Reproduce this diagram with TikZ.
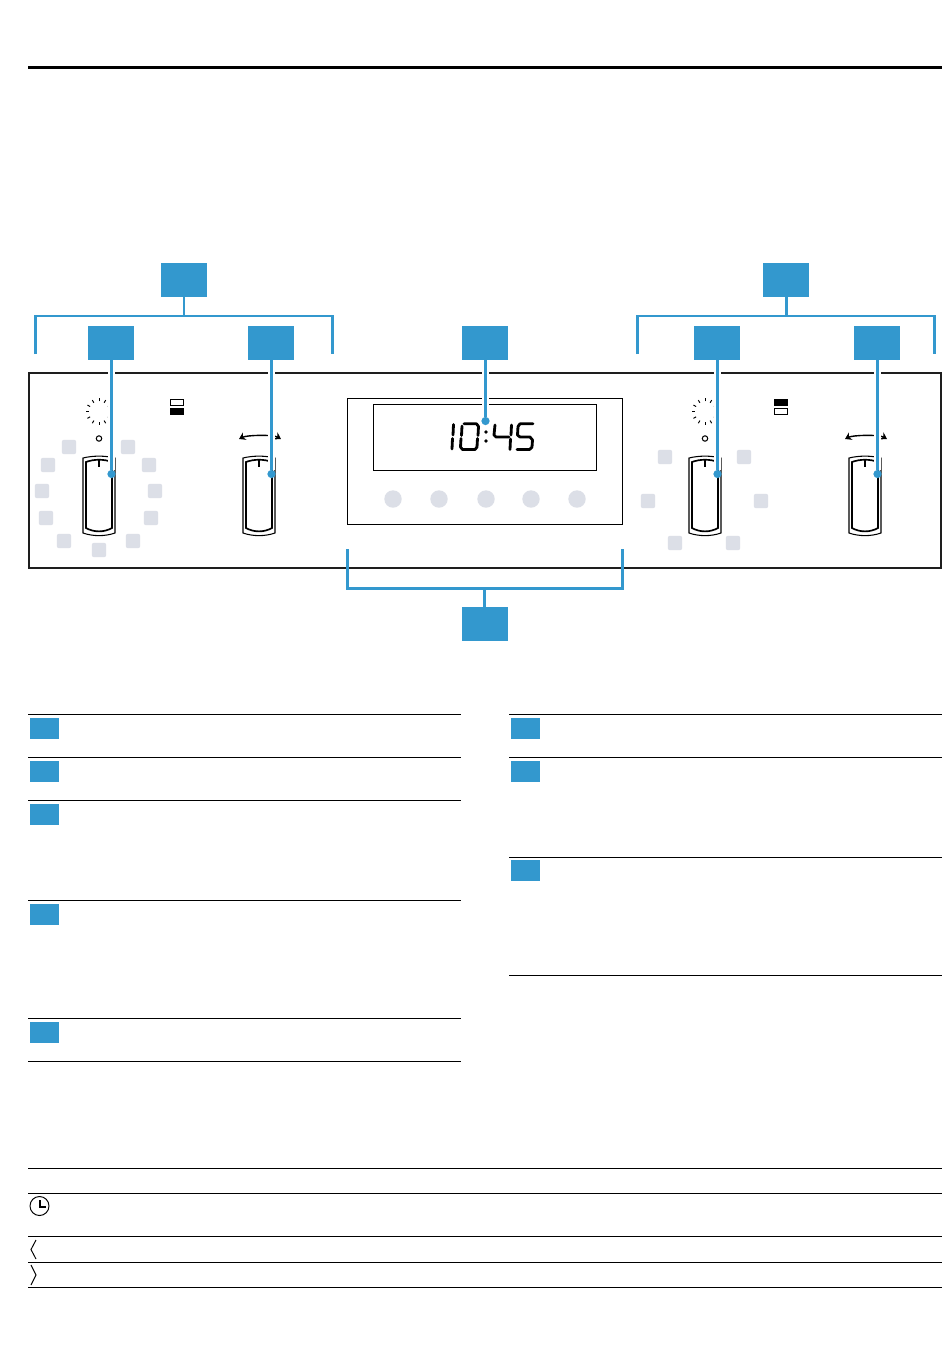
\documentclass[tikz,border=0pt]{standalone}
\usepackage{tikz}
\usetikzlibrary{arrows.meta}
\definecolor{leaderblue}{HTML}{3398CE}
\definecolor{keygrey}{HTML}{DCDFE7}
\definecolor{paneldark}{HTML}{1E1E1E}
\tikzset{
  keybig/.style={fill=leaderblue, minimum width=0.92cm, minimum height=0.68cm, inner sep=0pt},
  keysmall/.style={fill=leaderblue, minimum width=0.58cm, minimum height=0.42cm, inner sep=0pt},
  dotmark/.style={circle, fill=leaderblue, minimum size=0.165cm, inner sep=0pt},
  bracket/.style={leaderblue, line width=1.7pt},
  leader/.style={leaderblue, line width=1.7pt, preaction={draw=white, line width=4.2pt}},
  rulethin/.style={black, line width=0.55pt},
  segm/.style={black, line width=1.6pt, line cap=round, line join=round}
}
% knob at centre x = #1
\newcommand{\knobA}[1]{
  \draw[line width=0.6pt] (#1-16,458) .. controls (#1-6,455.5) and (#1+6,455.5) .. (#1+16,458) -- (#1+16,533) .. controls (#1+6,536.5) and (#1-6,536.5) .. (#1-16,533) -- cycle;
  \draw[line width=0.95pt] (#1-13,462) .. controls (#1-5,459) and (#1+5,459) .. (#1+13,462) -- (#1+13,528) .. controls (#1+5,532.5) and (#1-5,532.5) .. (#1-13,528) -- cycle;
  \draw[line width=0.95pt] (#1,459.5) -- (#1,467);
}
% sun ticks and small ring at centre x = #1
\newcommand{\sunA}[1]{
  \foreach \ang in {0,30,...,330} {
    \draw[line width=0.55pt] (#1,411.7) ++(\ang:10.3) -- ++(\ang:3);
  }
  \draw[line width=0.6pt] (#1,438.5) circle (2.7);
}
% turn arrow at centre x = #1
\newcommand{\turnA}[1]{
  \draw[line width=0.8pt, {Stealth[length=3.6pt,width=4.6pt]}-{Stealth[length=3.6pt,width=4.6pt]}] (#1-20,439) .. controls (#1-12,435) and (#1+14,434.5) .. (#1+22,439);
}
% grey key at x,y
\newcommand{\greyA}[2]{
  \fill[keygrey, rounded corners=1.2pt] (#1-7.2,#2-7.2) rectangle (#1+7.2,#2+7.2);
}
% table rule from x to x at y
\newcommand{\ruleA}[3]{
  \draw[rulethin] (#1,#3) -- (#2,#3);
}
\begin{document}
\begin{tikzpicture}[x=0.02cm,y=-0.02cm]
\useasboundingbox (0,0) rectangle (950,1369);
\fill[white] (0,0) rectangle (950,1369);

\draw[black, line width=1.7pt] (28,67.5) -- (942,67.5);

% panel
\draw[paneldark, line width=1.6pt] (29,373) rectangle (941,568);

% display
\draw[line width=0.65pt] (347.5,398.5) rectangle (622.5,524.5);
\draw[line width=0.65pt] (373.5,404.5) rectangle (596.5,470.5);
\foreach \xb in {393,439,486,531,577} {
  \fill[keygrey] (\xb,499) circle (8.7);
}
% digits
\draw[segm] (453.5,424.5) -- (453,435);
\draw[segm] (452.5,438.5) -- (452,449);
\draw[segm] (462,426) -- (461.5,435.5);
\draw[segm] (461,438.5) -- (460.5,447) -- (462.5,449.5) -- (475,449.5) -- (477,447) -- (477.5,438.5);
\draw[segm] (478,435.5) -- (478.5,426.5) -- (476.5,423.8) -- (464,423.8);
\fill (486,432) circle (1.8);
\fill (486,441) circle (1.8);
\draw[segm] (495,425) -- (494,435) -- (496,437) -- (509,437);
\draw[segm] (511.5,425) -- (511,435);
\draw[segm] (510.5,439) -- (510,449.5);
\draw[segm] (533,423.8) -- (520,423.8) -- (518,426.5) -- (517.5,435) -- (520,437) -- (530,437) -- (532.5,440);
\draw[segm] (532.5,440) -- (532,447) -- (529.5,449.5) -- (517,449.5);

% left side
\greyA{69}{447}
\greyA{48}{465}
\greyA{42}{491}
\greyA{46}{518}
\greyA{64}{541}
\greyA{99}{550}
\greyA{133}{541}
\greyA{151}{518}
\greyA{155}{491}
\greyA{149}{465}
\greyA{128}{447}
\knobA{99}
\knobA{259}
\sunA{99}
\turnA{259}
\draw[line width=0.55pt] (170.5,399) rectangle (183,405);
\fill (170,408) rectangle (183.5,415);

% right side
\greyA{665}{457}
\greyA{744}{457}
\greyA{648}{501}
\greyA{761}{501}
\greyA{675}{543}
\greyA{733}{543}
\knobA{705}
\knobA{865}
\sunA{705}
\turnA{865}
\fill (774,399) rectangle (787.5,406);
\draw[line width=0.55pt] (774.5,408.5) rectangle (787,414.5);

% callout keys
\node[keybig] (keyTopL) at (184,280) {};
\node[keybig] (keyTopR) at (786,280) {};
\node[keybig] (keyA) at (111,343) {};
\node[keybig] (keyB) at (271,343) {};
\node[keybig] (keyC) at (485,343) {};
\node[keybig] (keyD) at (717,343) {};
\node[keybig] (keyE) at (877,343) {};
\node[keybig] (keyBot) at (484.5,624) {};

\node[dotmark] (dotA) at (111.5,474) {};
\node[dotmark] (dotB) at (271.5,474) {};
\node[dotmark] (dotC) at (485.5,421) {};
\node[dotmark] (dotD) at (717.5,474) {};
\node[dotmark] (dotE) at (877.5,474) {};

\draw[leader] (keyA.south -| dotA) -- (dotA);
\draw[leader] (keyB.south -| dotB) -- (dotB);
\draw[leader] (keyC.south -| dotC) -- (dotC);
\draw[leader] (keyD.south -| dotD) -- (dotD);
\draw[leader] (keyE.south -| dotE) -- (dotE);

% brackets
\coordinate (brL1) at (35.5,354);
\coordinate (brL2) at (332.5,354);
\coordinate (brLm) at (184,316);
\draw[bracket] (brL1) |- (brLm) -| (brL2);
\draw[bracket] (keyTopL) -- (brLm);

\coordinate (brR1) at (637.5,354);
\coordinate (brR2) at (934.5,354);
\coordinate (brRm) at (786,316);
\draw[bracket] (brR1) |- (brRm) -| (brR2);
\draw[bracket] (keyTopR) -- (brRm);

\coordinate (brB1) at (347.5,549);
\coordinate (brB2) at (622.5,549);
\coordinate (brBm) at (484.5,588.5);
\draw[bracket] (brB1) |- (brBm) -| (brB2);
\draw[bracket] (keyBot) -- (brBm);

% table left
\ruleA{28}{461}{714.5}
\ruleA{28}{461}{757.5}
\ruleA{28}{461}{800.5}
\ruleA{28}{461}{900.5}
\ruleA{28}{461}{1018.5}
\ruleA{28}{461}{1061.5}
\node[keysmall] (rowL1) at (44.5,728) {};
\node[keysmall] (rowL2) at (44.5,771) {};
\node[keysmall] (rowL3) at (44.5,814) {};
\node[keysmall] (rowL4) at (44.5,914) {};
\node[keysmall] (rowL5) at (44.5,1032) {};

% table right
\ruleA{509}{942}{714.5}
\ruleA{509}{942}{757.5}
\ruleA{509}{942}{857.5}
\ruleA{509}{942}{975.5}
\node[keysmall] (rowR1) at (525.5,728) {};
\node[keysmall] (rowR2) at (525.5,771) {};
\node[keysmall] (rowR3) at (525.5,870.5) {};

% symbol table
\ruleA{28}{942}{1168.5}
\ruleA{28}{942}{1193.5}
\ruleA{28}{942}{1236.5}
\ruleA{28}{942}{1262.5}
\ruleA{28}{942}{1287.5}
\draw[line width=0.55pt] (39.5,1206) circle (9.5);
\draw[line width=0.7pt] (40,1200) -- (40,1207) -- (46,1207);
\draw[line width=0.55pt] (36,1240) -- (31,1249.5) -- (36,1259);
\draw[line width=0.55pt] (31,1265) -- (36,1275) -- (31,1285);
\end{tikzpicture}
\end{document}
